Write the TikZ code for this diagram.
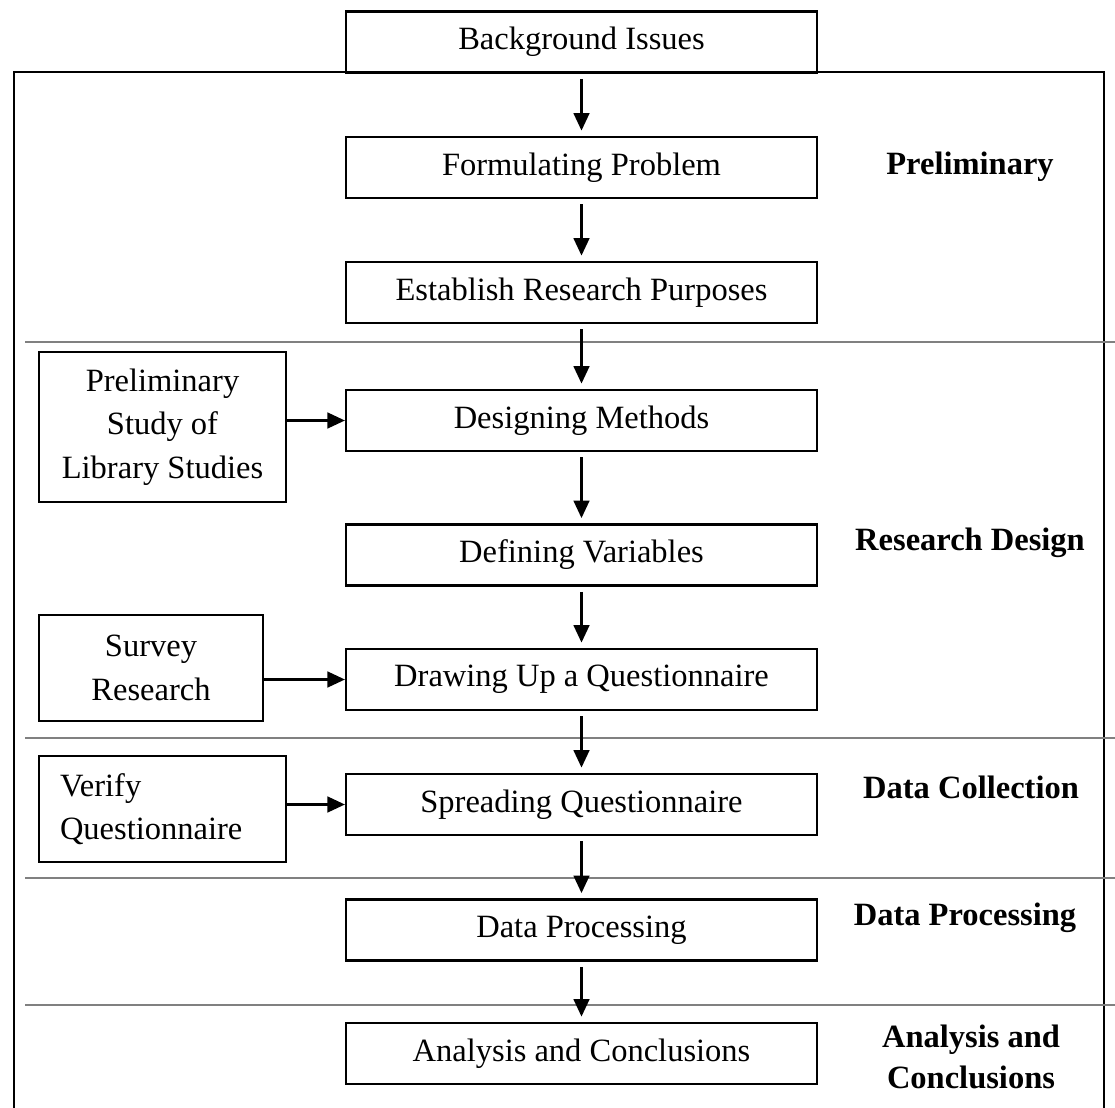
\documentclass[tikz,border=0pt]{standalone}
\usepackage{fontspec}
\setmainfont{Liberation Serif}
\usepackage{tikz}
\usetikzlibrary{arrows.meta}

\tikzset{
  stage/.style={draw, line width=1.3pt, minimum width=9.42cm, minimum height=1.22cm, inner sep=0pt},
  sidebox/.style={draw, line width=1.3pt, align=center, inner sep=0pt},
  phase/.style={font=\fontsize{18.5}{23.5}\selectfont\bfseries, align=center},
  flow/.style={-{Triangle[length=10pt,width=9pt]}, line width=1.3pt},
  down/.style={flow, shorten <=3pt, shorten >=3pt},
  divider/.style={gray, line width=0.7pt}
}

\begin{document}
\begin{tikzpicture}[x=0.02cm, y=-0.02cm, font=\fontsize{18.5}{24.7}\selectfont]
      \useasboundingbox (0,0) rectangle (1115,1108);
      \draw[line width=1.3pt] (14,1108) -- (14,72) -- (1104,72) -- (1104,1108);
      \draw[divider] (25,342) -- (1115,342);
      \draw[divider] (25,738) -- (1115,738);
      \draw[divider] (25,878) -- (1115,878);
      \draw[divider] (25,1005) -- (1115,1005);

      \node[stage] (background) at (581.5,42) {Background Issues};
      \node[stage] (problem) at (581.5,167.5) {Formulating Problem};
      \node[stage] (purposes) at (581.5,292.5) {Establish Research Purposes};
      \node[stage] (methods) at (581.5,420.5) {Designing Methods};
      \node[stage] (variables) at (581.5,555) {Defining Variables};
      \node[stage] (questionnaire) at (581.5,679.5) {Drawing Up a Questionnaire};
      \node[stage] (spreading) at (581.5,804.5) {Spreading Questionnaire};
      \node[stage] (processing) at (581.5,930) {Data Processing};
      \node[stage] (analysis) at (581.5,1053.5) {Analysis and Conclusions};

      \node[sidebox, minimum width=4.94cm, minimum height=3cm] (library) at (162.5,427)
        {Preliminary\\ Study of\\ Library Studies};
      \node[sidebox, minimum width=4.48cm, minimum height=2.12cm] (survey) at (151,668)
        {Survey\\ Research};
      \node[sidebox, minimum width=4.94cm, minimum height=2.12cm, text width=4.1cm, align=left] (verify) at (162.5,809)
        {Verify\\ Questionnaire};

      \node[phase] (preliminary) at (970,167) {Preliminary};
      \node[phase] (design) at (970,543) {Research Design};
      \node[phase] (collection) at (971,787) {Data Collection};
      \node[phase] (dataproc) at (965,918) {Data Processing};
      \node[phase] (conclusions) at (971,1057) {Analysis and\\ Conclusions};

      \draw[down] (background) -- (problem);
      \draw[down] (problem) -- (purposes);
      \draw[down] (purposes) -- (methods);
      \draw[down] (methods) -- (variables);
      \draw[down] (variables) -- (questionnaire);
      \draw[down] (questionnaire) -- (spreading);
      \draw[down] (spreading) -- (processing);
      \draw[down] (processing) -- (analysis);

      \draw[flow] (library.east |- methods.west) -- (methods.west);
      \draw[flow] (survey.east |- questionnaire.west) -- (questionnaire.west);
      \draw[flow] (verify.east |- spreading.west) -- (spreading.west);
\end{tikzpicture}
\end{document}
